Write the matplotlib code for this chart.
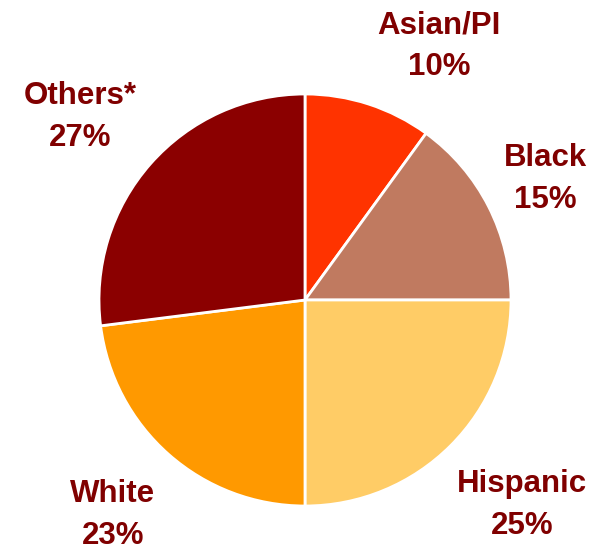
import matplotlib
matplotlib.use("Agg")
import matplotlib.pyplot as plt

groups = ["Asian/PI", "Black", "Hispanic", "White", "Others*"]
shares = [10, 15, 25, 23, 27]
colors = ["#FF3300", "#C07A60", "#FFCC66", "#FF9900", "#8B0000"]

# label centres in pixel units (origin bottom-left)
label_pos = [(439, 505), (545, 372), (522, 46), (113, 36), (80, 434)]

W, H = 609, 551
fig = plt.figure(figsize=(W / 100, H / 100), dpi=100)
ax = fig.add_axes([0, 0, 1, 1])

ax.pie(shares, colors=colors, startangle=90, counterclock=False,
       center=(305, 251), radius=206,
       wedgeprops=dict(edgecolor="white", linewidth=2))

for name, v, (x, y) in zip(groups, shares, label_pos):
    ax.text(x, y, f"{name}\n{v}%", ha="center", va="center",
            fontsize=22.5, fontweight="bold", color="#800000",
            family="Liberation Sans", linespacing=1.5)

ax.set_xlim(0, W)
ax.set_ylim(0, H)
ax.set_aspect("equal")
ax.axis("off")

fig.savefig("out.png", dpi=100)
